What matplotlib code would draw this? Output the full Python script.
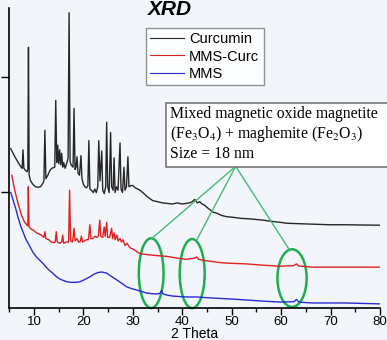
import matplotlib
matplotlib.use("Agg")
import matplotlib.pyplot as plt
from matplotlib.patches import Ellipse, Rectangle

plt.rcParams["mathtext.fontset"] = "stix"

# XRD patterns: 2-theta (deg) and intensity (a.u., offset stacked)
curcumin_x = [5.3, 6.0, 6.8, 7.4, 7.6, 7.77, 7.95, 8.3, 8.6, 8.75, 8.88, 9.02, 9.3, 9.8,
              10.3, 10.8, 11.3, 11.8, 12.0, 12.2, 12.4, 12.8, 13.2, 13.6, 14.2, 14.4, 14.6,
              14.8, 15.0, 15.2, 15.4, 15.6, 15.8, 16.0, 16.3, 16.6, 16.9, 17.1, 17.3, 17.5,
              17.9, 18.1, 18.3, 18.5, 18.7, 18.9, 19.2, 19.5, 19.7, 20.0, 20.3, 20.6, 20.9,
              21.1, 21.3, 21.6, 22.0, 22.3, 22.6, 22.9, 23.1, 23.35, 23.7, 23.9, 24.2, 24.5,
              24.7, 24.9, 25.2, 25.5, 25.7, 26.0, 26.2, 26.4, 26.7, 27.0, 27.4, 27.6, 27.9,
              28.2, 28.4, 28.7, 29.0, 29.2, 29.6, 30.0, 30.5, 31.0, 31.4, 32.0, 33.0, 34.0,
              35.0, 36.0, 37.0, 38.0, 39.0, 40.0, 41.5, 42.0, 42.5, 43.0, 43.5, 44.0, 44.5,
              45.0, 46.2, 47.0, 48.0, 49.0, 50.2, 52.0, 54.0, 56.3, 58.0, 60.0, 61.1, 63.0,
              66.4, 70.0, 73.2, 76.0, 80.0]
curcumin_y = [1.38, 1.32, 1.26, 1.22, 1.21, 1.37, 1.21, 1.19, 1.18, 1.20, 2.26, 1.15, 1.10, 1.07,
              1.05, 1.045, 1.05, 1.08, 1.10, 1.54, 1.12, 1.15, 1.19, 1.21, 1.22, 1.80, 1.26,
              1.41, 1.25, 1.37, 1.24, 1.34, 1.22, 1.26, 1.21, 1.25, 1.30, 2.56, 1.27, 1.24,
              1.22, 1.73, 1.20, 1.22, 1.31, 1.17, 1.15, 1.32, 1.12, 1.07, 1.05, 1.04, 1.06,
              1.45, 1.03, 1.02, 1.00, 1.03, 1.00, 1.05, 1.45, 1.10, 1.36, 1.02, 0.99, 1.05,
              1.61, 1.05, 1.00, 1.52, 1.05, 1.02, 1.30, 1.00, 1.05, 1.02, 1.43, 1.03, 1.00,
              1.22, 1.02, 1.05, 1.31, 1.05, 1.06, 1.06, 1.04, 1.03, 1.02, 1.00, 0.96, 0.93,
              0.92, 0.91, 0.905, 0.90, 0.91, 0.90, 0.91, 0.92, 0.94, 0.91, 0.92, 0.90, 0.89,
              0.87, 0.83, 0.82, 0.80, 0.79, 0.785, 0.775, 0.77, 0.76, 0.75, 0.74, 0.733, 0.73,
              0.725, 0.72, 0.72, 0.718, 0.716]

mms_curc_x = [5.5, 6.0, 6.5, 7.0, 7.5, 8.0, 8.5, 8.75, 8.85, 9.0, 9.5, 10.0, 10.5, 11.0, 11.5,
              12.0, 12.2, 12.4, 13.0, 13.5, 14.0, 14.3, 14.5, 14.7, 15.2, 15.6, 15.8, 16.0,
              16.5, 17.0, 17.2, 17.4, 17.8, 18.1, 18.3, 18.7, 19.0, 19.3, 19.6, 19.8, 20.2,
              20.6, 21.0, 21.3, 21.5, 21.9, 22.3, 22.7, 23.0, 23.3, 23.5, 23.9, 24.2, 24.4,
              24.7, 24.9, 25.3, 25.7, 25.9, 26.2, 26.4, 26.8, 27.0, 27.4, 27.7, 28.0, 28.4,
              28.8, 29.4, 30.0, 31.4, 33.0, 35.4, 37.0, 39.0, 40.9, 42.5, 42.9, 43.3, 44.5,
              46.2, 48.0, 50.0, 53.0, 56.0, 59.7, 62.5, 63.1, 63.6, 66.4, 70.0, 73.2, 80.0]
mms_curc_y = [1.15, 1.04, 0.95, 0.87, 0.80, 0.75, 0.72, 0.71, 1.05, 0.70, 0.68, 0.67, 0.65, 0.64,
              0.63, 0.61, 0.66, 0.60, 0.59, 0.57, 0.565, 0.57, 0.66, 0.57, 0.56, 0.57, 0.63,
              0.56, 0.57, 0.57, 1.02, 0.58, 0.57, 0.69, 0.58, 0.60, 0.57, 0.57, 0.62, 0.57,
              0.58, 0.59, 0.59, 0.72, 0.60, 0.60, 0.62, 0.61, 0.62, 0.76, 0.62, 0.61, 0.70,
              0.62, 0.74, 0.61, 0.61, 0.69, 0.60, 0.65, 0.59, 0.63, 0.58, 0.60, 0.57, 0.59,
              0.54, 0.56, 0.52, 0.51, 0.47, 0.46, 0.45, 0.445, 0.43, 0.42, 0.43, 0.44, 0.42,
              0.41, 0.40, 0.39, 0.385, 0.38, 0.37, 0.36, 0.365, 0.38, 0.362, 0.352, 0.352,
              0.352, 0.352]

mms_x = [5.3, 5.8, 6.3, 6.8, 7.3, 7.8, 8.3, 8.8, 9.3, 9.8, 10.5, 11.2, 11.8, 12.5, 13.2, 13.8,
         14.5, 15.2, 16.0, 16.7, 17.5, 18.3, 19.3, 20.3, 21.3, 22.1, 22.9, 23.7, 24.7, 25.7,
         26.8, 27.8, 28.8, 29.8, 30.8, 31.8, 32.8, 33.8, 34.8, 35.5, 35.8, 36.1, 37.0, 38.1,
         40.0, 41.5, 43.0, 44.5, 46.2, 50.0, 53.0, 56.0, 59.7, 62.6, 63.1, 63.6, 66.4, 70.0,
         73.2, 80.0]
mms_y = [1.00, 0.93, 0.86, 0.78, 0.71, 0.655, 0.60, 0.56, 0.52, 0.48, 0.44, 0.41, 0.385, 0.35,
         0.32, 0.30, 0.27, 0.25, 0.235, 0.225, 0.22, 0.22, 0.225, 0.245, 0.268, 0.29, 0.305,
         0.31, 0.30, 0.27, 0.24, 0.21, 0.18, 0.165, 0.153, 0.14, 0.127, 0.122, 0.119, 0.125,
         0.15, 0.12, 0.108, 0.101, 0.095, 0.093, 0.093, 0.088, 0.084, 0.075, 0.067, 0.058,
         0.049, 0.052, 0.072, 0.048, 0.041, 0.041, 0.041, 0.033]

series_names = ["Curcumin", "MMS-Curc", "MMS"]
x_ticks = [10, 20, 30, 40, 50, 60, 70, 80]
x_minor = [5, 15, 25, 35, 45, 55, 65, 75]
y_ticks = [1, 2]

# Highlighted magnetite/maghemite reflections: centre (2θ, a.u.), width, height
rings_cx = [33.7, 42.0, 62.2]
rings_cy = [0.30, 0.296, 0.257]
rings_w = [5.0, 5.05, 5.9]
rings_h = [0.606, 0.60, 0.50]
callout_tip = (50.8, 1.227)
callout_ends_x = [33.8, 42.9, 61.7]
callout_ends_y = [0.60, 0.586, 0.50]

bg = "#f2f6fb"
fig = plt.figure(figsize=(3.87, 3.40), dpi=100, facecolor=bg)
ax = fig.add_axes([0.024, 0.095, 0.958, 0.881])
ax.set_facecolor(bg)

ax.plot(curcumin_x, curcumin_y, color="#262626", lw=1.0, label=series_names[0])
ax.plot(mms_curc_x, mms_curc_y, color="#e02020", lw=1.0, label=series_names[1])
ax.plot(mms_x, mms_y, color="#2a2ad0", lw=1.0, label=series_names[2])

ax.set_xlim(5, 80)
ax.set_ylim(0, 2.6)
ax.set_xticks(x_ticks)
ax.set_xticks(x_minor, minor=True)
ax.set_yticks(y_ticks)
ax.set_yticklabels([])
ax.tick_params(axis="x", direction="out", length=5, width=1, labelsize=9.5, pad=1)
ax.tick_params(axis="x", which="minor", direction="out", length=3, width=1)
ax.tick_params(axis="y", direction="out", length=6, width=1)
for lab in ax.get_xticklabels():
    lab.set_fontfamily("Liberation Sans")
for s in ["top", "right"]:
    ax.spines[s].set_visible(False)
for s in ["left", "bottom"]:
    ax.spines[s].set_linewidth(1.2)
ax.set_xlabel("2 Theta", fontsize=10, family="Liberation Sans", labelpad=-1)

# Circled reflections and callout lines
for cx, cy, w, h in zip(rings_cx, rings_cy, rings_w, rings_h):
    ax.add_patch(Ellipse((cx, cy), w, h, fill=False, ec="#1fae4f", lw=1.8, clip_on=False))
for ex, ey in zip(callout_ends_x, callout_ends_y):
    ax.plot([callout_tip[0], ex], [callout_tip[1], ey], color="#45b878", lw=1.0)

leg = ax.legend(loc="upper left", bbox_to_anchor=(146 / 387, 1 - 28 / 340),
                bbox_transform=fig.transFigure, frameon=True, fancybox=False,
                prop={"family": "Liberation Sans", "size": 10.5},
                handlelength=2.3, handletextpad=0.35, labelspacing=0.22,
                borderpad=0.3, borderaxespad=0)
leg.get_frame().set_edgecolor("#777777")
leg.get_frame().set_linewidth(1.0)
leg.get_frame().set_facecolor("white")
for ln in leg.get_lines():
    ln.set_linewidth(0.8)

# Annotation box
fig.patches.append(Rectangle((166 / 387, 1 - 167 / 340), 0.6, 64 / 340,
                             transform=fig.transFigure, fill=True, fc="white",
                             ec="#777777", lw=1.2, zorder=5))
fig.text(170 / 387, 1 - 106 / 340,
         "Mixed magnetic oxide magnetite\n(Fe$_3$O$_4$) + maghemite (Fe$_2$O$_3$)\nSize = 18 nm",
         family="Liberation Serif", fontsize=11.3, va="top", ha="left",
         linespacing=1.15, zorder=6)

fig.text(170 / 387, 1 - 15 / 340, "XRD", fontsize=15, fontweight="bold",
         fontstyle="italic", family="Liberation Sans", ha="center", va="baseline")

fig.savefig("out.png", dpi=100, facecolor=bg)
